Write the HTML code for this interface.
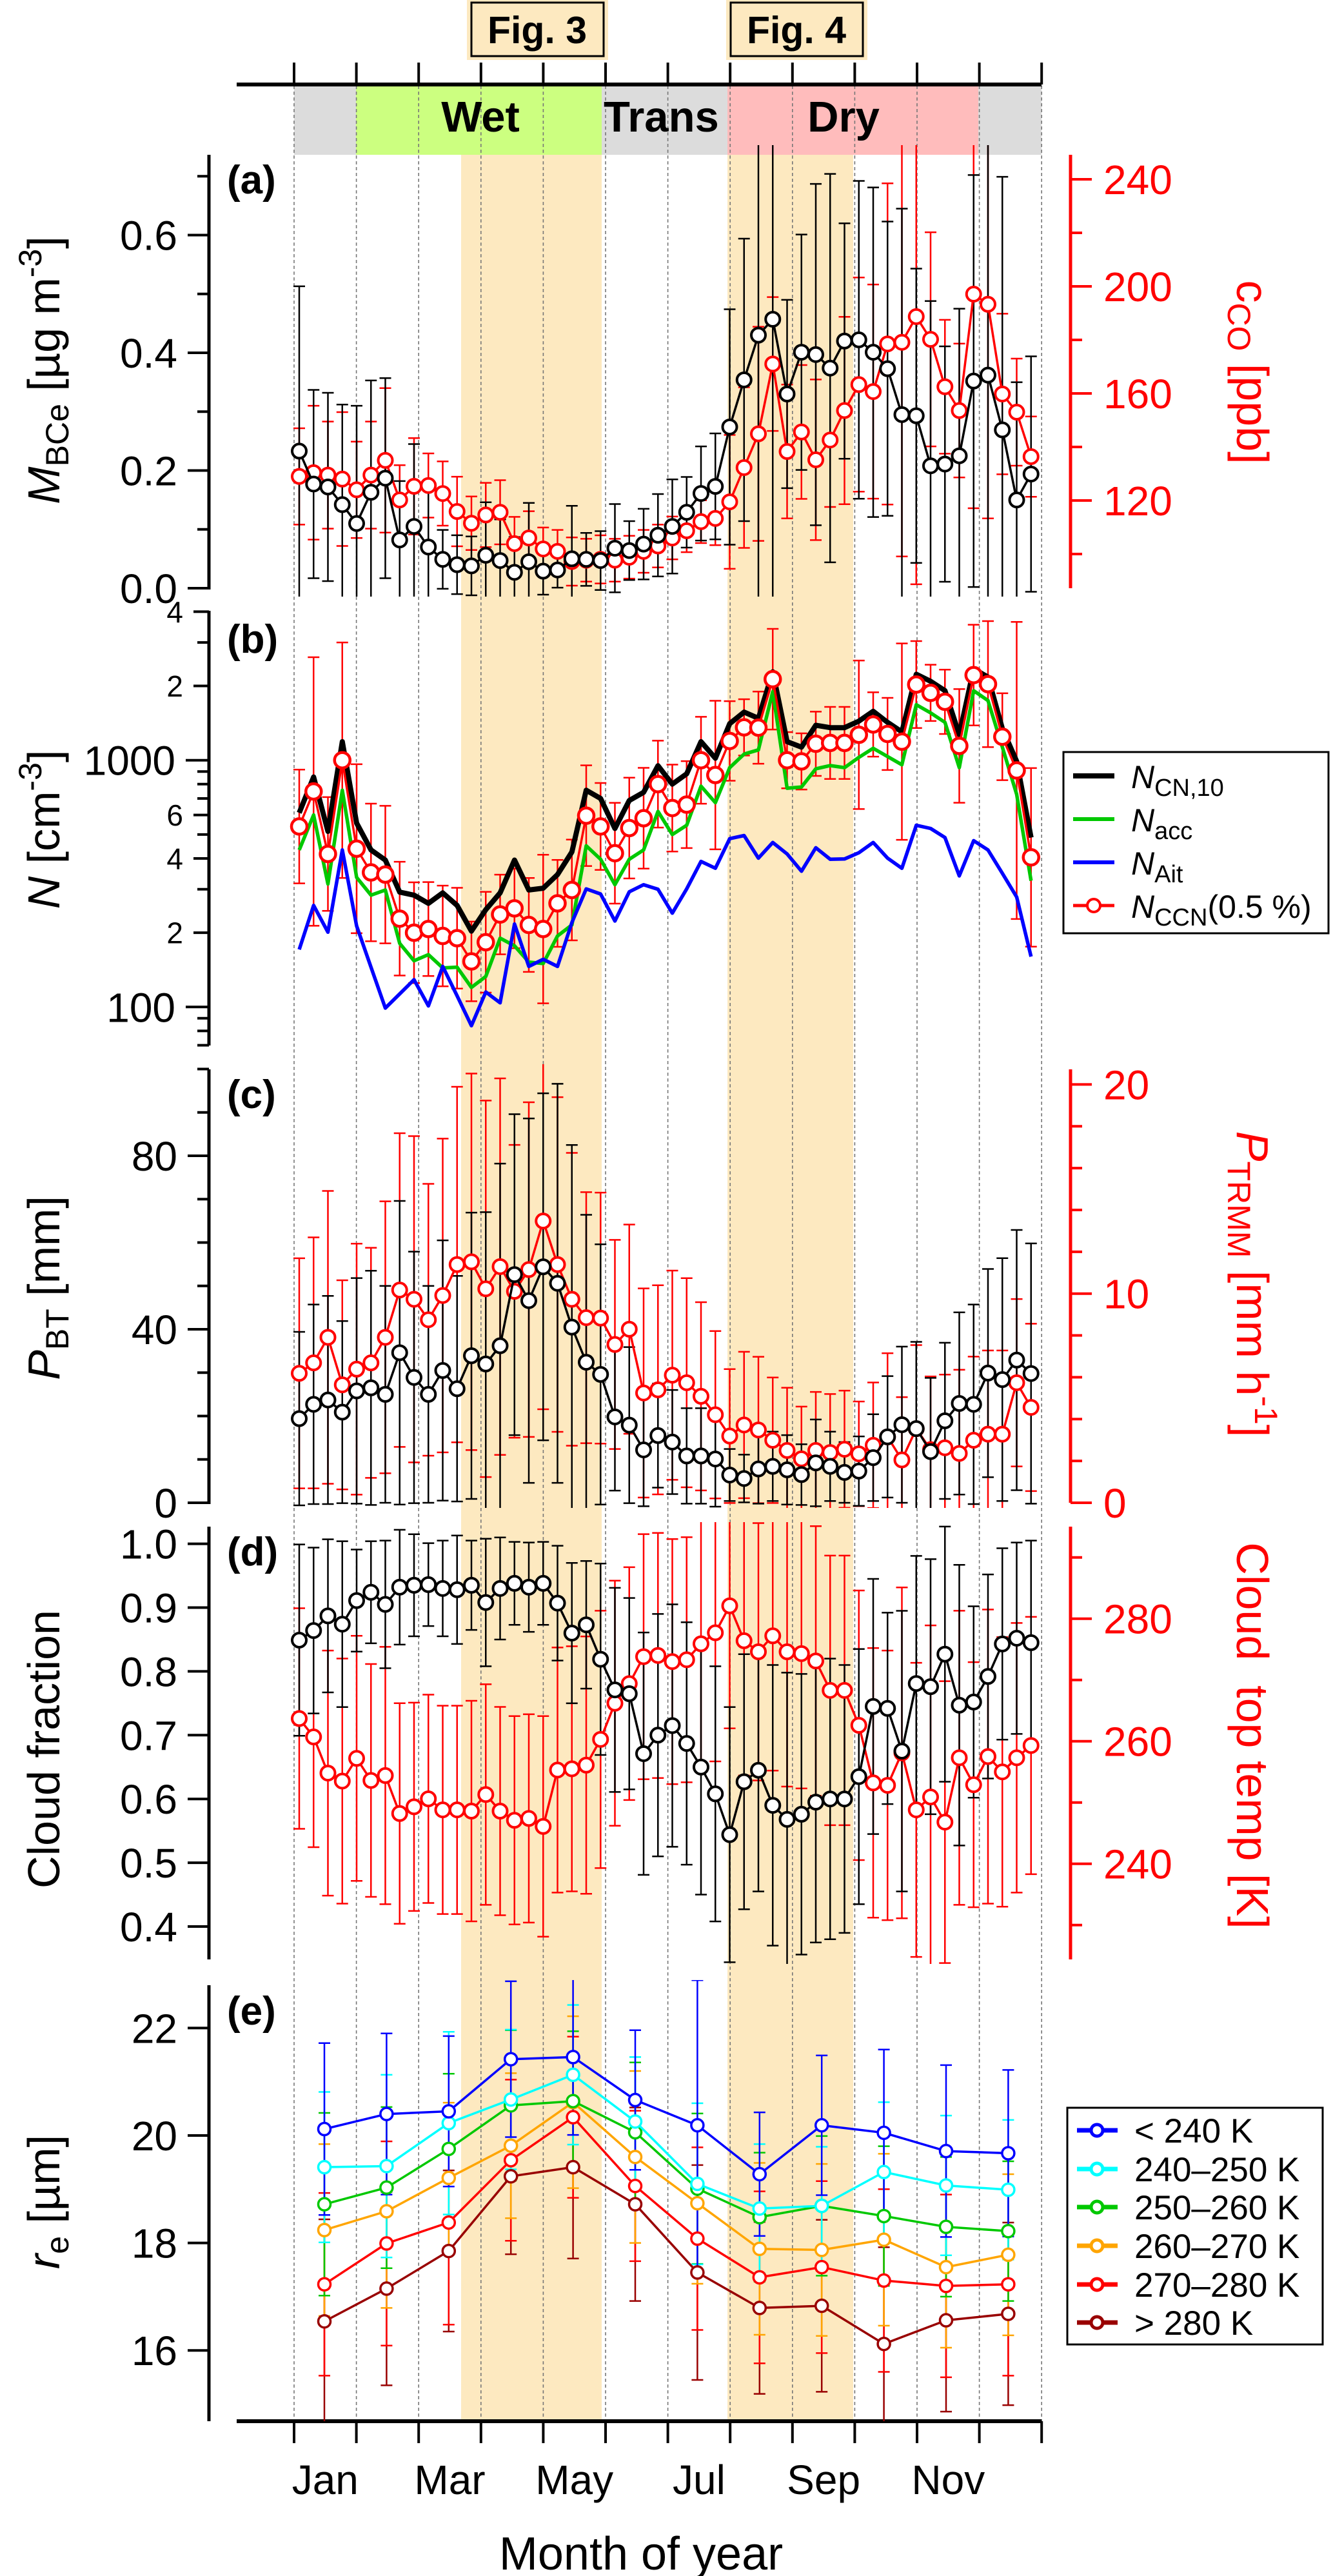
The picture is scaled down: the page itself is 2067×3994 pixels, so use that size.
<!DOCTYPE html>
<html><head><meta charset="utf-8"><title>Seasonal cycle figure</title>
<style>
html,body{margin:0;padding:0;background:#fff;}
svg{display:block;font-family:"Liberation Sans",Arial,sans-serif;}
</style></head>
<body>
<svg id="fig" xmlns="http://www.w3.org/2000/svg" width="2067" height="3994" viewBox="0 0 2067 3994">
<defs>
<clipPath id="clipA"><rect x="367" y="225" width="1260" height="700"/></clipPath>
<clipPath id="clipB"><rect x="367" y="940" width="1260" height="690"/></clipPath>
<clipPath id="clipC"><rect x="367" y="1650" width="1260" height="688"/></clipPath>
<clipPath id="clipD"><rect x="367" y="2360" width="1260" height="685"/></clipPath>
<clipPath id="clipE"><rect x="367" y="3070" width="1260" height="684"/></clipPath>
</defs>
<g id="bg"></g>
<g id="axes"></g>
<g id="marks"></g>
<g id="labels">
  <!-- Fig boxes -->
  <rect x="724" y="0" width="219" height="93" fill="#fde9c0"/>
  <rect x="731" y="4" width="205" height="83" fill="none" stroke="#000" stroke-width="3"/>
  <text x="833" y="67" font-size="59" font-weight="bold" text-anchor="middle">Fig. 3</text>
  <rect x="1126" y="0" width="219" height="93" fill="#fde9c0"/>
  <rect x="1133" y="4" width="205" height="83" fill="none" stroke="#000" stroke-width="3"/>
  <text x="1235" y="67" font-size="59" font-weight="bold" text-anchor="middle">Fig. 4</text>
  <!-- seasons -->
  <text x="745" y="204" font-size="67" font-weight="bold" text-anchor="middle">Wet</text>
  <text x="936" y="204" font-size="67" font-weight="bold">Trans</text>
  <text x="1308" y="204" font-size="67" font-weight="bold" text-anchor="middle">Dry</text>
  <!-- panel letters -->
  <text x="352" y="300" font-size="62" font-weight="bold">(a)</text>
  <text x="352" y="1012" font-size="62" font-weight="bold">(b)</text>
  <text x="352" y="1718" font-size="62" font-weight="bold">(c)</text>
  <text x="352" y="2427" font-size="62" font-weight="bold">(d)</text>
  <text x="352" y="3139" font-size="62" font-weight="bold">(e)</text>
  <!-- left y titles -->
  <text transform="translate(92,574) rotate(-90)" font-size="70" text-anchor="middle"><tspan font-style="italic">M</tspan><tspan font-size="50" dy="14">BCe</tspan><tspan dy="-14"> [µg m</tspan><tspan font-size="50" dy="-28">-3</tspan><tspan dy="28">]</tspan></text>
  <text transform="translate(92,1286) rotate(-90)" font-size="70" text-anchor="middle"><tspan font-style="italic">N</tspan><tspan> [cm</tspan><tspan font-size="50" dy="-28">-3</tspan><tspan dy="28">]</tspan></text>
  <text transform="translate(92,1997) rotate(-90)" font-size="70" text-anchor="middle"><tspan font-style="italic">P</tspan><tspan font-size="50" dy="14">BT</tspan><tspan dy="-14"> [mm]</tspan></text>
  <text transform="translate(92,2712) rotate(-90)" font-size="70" text-anchor="middle">Cloud fraction</text>
  <text transform="translate(92,3414) rotate(-90)" font-size="70" text-anchor="middle"><tspan font-style="italic">r</tspan><tspan font-size="50" dy="14">e</tspan><tspan dy="-14"> [µm]</tspan></text>
  <!-- right y titles -->
  <text transform="translate(1918,577) rotate(90)" font-size="70" fill="#ff0000" text-anchor="middle"><tspan>c</tspan><tspan font-size="50" dy="14">CO</tspan><tspan dy="-14"> [ppb]</tspan></text>
  <text transform="translate(1918,1991) rotate(90)" font-size="70" fill="#ff0000" text-anchor="middle"><tspan font-style="italic">P</tspan><tspan font-size="50" dy="14">TRMM</tspan><tspan dy="-14"> [mm h</tspan><tspan font-size="50" dy="-28">-1</tspan><tspan dy="28">]</tspan></text>
  <text transform="translate(1918,2691) rotate(90)" font-size="70" fill="#ff0000" text-anchor="middle" xml:space="preserve">Cloud  top temp [K]</text>
  <!-- x title -->
  <text x="994" y="3984" font-size="72" text-anchor="middle">Month of year</text>
  <!-- legend b -->
  <g>
    <rect x="1649" y="1166" width="411" height="281" fill="#fff" stroke="#000" stroke-width="3"/>
    <line x1="1664" y1="1203" x2="1728" y2="1203" stroke="#000" stroke-width="8"/>
    <text x="1754" y="1222" font-size="50"><tspan font-style="italic">N</tspan><tspan font-size="38" dy="12">CN,10</tspan></text>
    <line x1="1664" y1="1270" x2="1728" y2="1270" stroke="#00c800" stroke-width="6"/>
    <text x="1754" y="1289" font-size="50"><tspan font-style="italic">N</tspan><tspan font-size="38" dy="12">acc</tspan></text>
    <line x1="1664" y1="1337" x2="1728" y2="1337" stroke="#0000ff" stroke-width="6"/>
    <text x="1754" y="1356" font-size="50"><tspan font-style="italic">N</tspan><tspan font-size="38" dy="12">Ait</tspan></text>
    <line x1="1664" y1="1404" x2="1728" y2="1404" stroke="#ff0000" stroke-width="5"/>
    <circle cx="1696" cy="1404" r="10" fill="#fff" stroke="#ff0000" stroke-width="4"/>
    <text x="1754" y="1423" font-size="50"><tspan font-style="italic">N</tspan><tspan font-size="38" dy="12">CCN</tspan><tspan dy="-12">(0.5 %)</tspan></text>
  </g>
  <!-- legend e -->
  <g id="legendE">
    <rect x="1655" y="3268" width="396" height="367" fill="#fff" stroke="#000" stroke-width="3"/>
  </g>
</g>
</svg>
<script>
// ---------- data ----------
const weeks = [0,1,2,3,4,5,6,7,8,9,10,11,12,13,14,15,16,17,18,19,20,21,22,23,24,25,26,27,28,29,30,31,32,33,34,35,36,37,38,39,40,41,42,43,44,45,46,47,48,49,50,51];
const monthLabels = ["Jan","Mar","May","Jul","Sep","Nov"];
const monthLabelIdx = [0,2,4,6,8,10];
// panel a
const mbcValues = [0.233,0.177,0.172,0.142,0.110,0.163,0.187,0.082,0.105,0.070,0.049,0.040,0.038,0.056,0.047,0.027,0.045,0.029,0.031,0.050,0.049,0.047,0.068,0.064,0.075,0.09,0.105,0.129,0.161,0.173,0.274,0.354,0.430,0.457,0.330,0.401,0.397,0.374,0.420,0.422,0.401,0.373,0.295,0.293,0.208,0.211,0.225,0.352,0.362,0.269,0.150,0.194];
const mbcErr = [0.28,0.16,0.16,0.17,0.2,0.19,0.17,0.1,0.14,0.1,0.05,0.05,0.05,0.09,0.07,0.06,0.1,0.04,0.03,0.09,0.045,0.05,0.075,0.05,0.06,0.07,0.08,0.06,0.08,0.09,0.2,0.24,0.5,0.55,0.16,0.2,0.29,0.33,0.2,0.27,0.28,0.25,0.35,0.25,0.28,0.2,0.25,0.35,0.43,0.43,0.2,0.2];
const coValues = [129.0,130.4,129.5,128,124,129.5,135,120.2,125.3,125.6,122.6,115.9,111.5,114.6,115.6,103.9,106,101.9,101,97.2,97.7,98,97.7,98.8,101,103,106,108.7,112.1,113.3,119.5,132.3,144.9,171,138.3,145.6,135.2,142.6,153.6,163.3,160.7,178.5,179.1,188.7,180.2,162.5,153.6,197.1,193.3,159.8,153,136.4];
const coErr = [18,25,20,25,18,20,27,13,18,12,12,13,10,12,12,10,10,8,8,9,8,9,8,8,8,8,8,8,8,10,25,30,40,25,25,25,30,25,35,40,40,60,80,100,40,25,25,80,80,30,20,15];
const aLeftTicks = [0.0,0.2,0.4,0.6];
const aLeftLabels = ["0.0","0.2","0.4","0.6"];
const aRightTicks = [120,160,200,240];
// panel b
const ncnValues = [612,855,515,1189,556,433,394,292,284,263,290,258,203,248,290,394,298,303,344,425,756,700,529,687,741,950,800,881,1189,1019,1407,1567,1479,2282,1189,1130,1386,1355,1355,1440,1579,1424,1303,2230,2089,1913,1268,2344,2173,1343,989,486];
const nccnValues = [539,747,417,1000,438,351,344,228,200,207,194,190,153,183,237,251,215,207,263,298,596,539,420,531,582,800,640,661,1000,871,1197,1359,1355,2130,1000,989,1166,1175,1175,1268,1396,1278,1189,2026,1875,1725,1143,2213,2034,1245,909,404];
const nccnErrFactor = [1.7,3.5,1.7,3,2.2,1.9,1.9,1.7,1.6,1.55,1.6,1.6,1.45,1.6,1.45,1.45,1.55,2.0,1.5,1.6,1.6,1.5,1.6,1.6,1.6,1.5,1.5,1.5,1.5,2.0,1.45,1.3,1.4,1.6,1.3,1.3,1.35,1.4,1.4,2.0,1.35,1.4,2.5,1.5,1.3,1.35,1.7,1.6,1.8,1.5,4,2.3];
const naccValues = [433,600,315,756,335,284,298,181,154,163,144,145,120,133,190,177,152,150,194,215,450,397,313,397,433,620,500,545,785,673,933,1059,1101,1897,770,779,923,951,933,1027,1118,1035,959,1679,1555,1424,933,1913,1745,1130,727,325];
const naitValues = [171,258,201,433,213,145,99,113,129,101,146,111,84,115,104,217,146,156,146,220,301,287,223,293,313,300,240,301,389,365,481,495,401,464,417,355,442,397,398,422,464,401,365,545,529,486,340,472,433,348,279,160];
const bMajorTicks = [100,1000];
const bMinorLabeled = [200,400,600,2000,4000];
const bMinorLabels = ["2","4","6","2","4"];
const bMinorTicks = [70,80,90,300,500,700,800,900,3000];
// panel c
const pbtValues = [19.4,22.7,23.7,20.9,25.8,26.5,25.0,34.6,28.9,25.0,30.5,26.3,33.9,32.0,36.2,52.6,46.6,54.4,50.6,40.5,32.4,29.6,19.8,17.9,12.2,15.5,14,10.8,10.8,10.1,6.4,5.6,7.8,8.4,7.6,6.5,9.2,8.4,7.0,7.3,10.4,15.2,18.0,17.1,11.8,18.9,22.9,22.7,29.9,28.4,32.9,29.8];
const pbtErr = [20,23,24,21,26,27,25,35,29,25,30,26,33,35,42,37,42,40,46,42,34,30,17,18,13,12,12,11,11,11,6,5.5,8,8,8,7,10,8,7,8,10,14,18,20,17,18,21,23,24,28,30,30];
const ptrmmValues = [6.19,6.69,7.91,5.64,6.39,6.69,7.91,10.17,9.73,8.75,9.91,11.39,11.52,10.23,11.29,10.11,11.15,13.47,11.39,9.73,8.85,8.83,7.57,8.30,5.25,5.4,6.1,5.74,5.09,4.21,3.19,3.72,3.48,2.99,2.50,2.10,2.50,2.40,2.56,2.34,2.75,3.15,2.05,3.54,2.54,2.63,2.36,2.99,3.28,3.28,5.74,4.56];
const ptrmmErr = [5.5,6,7,5,6,5.5,6.5,7.5,7.8,6.5,7.5,8.5,9,9,9,7,8,9,8,7,6,6,5,5,5,5,5,5,4.5,4,3.2,3.5,3.5,3,3,2.5,2.8,2.8,2.8,2.5,3,4,3,4,3.5,3.5,4,4,4,4,4,4];
const cLeftTicks = [0,40,80];
const cRightTicks = [0,10,20];
// panel d
const cfValues = [0.849,0.864,0.887,0.874,0.911,0.924,0.905,0.932,0.935,0.936,0.930,0.928,0.935,0.908,0.930,0.938,0.932,0.938,0.907,0.860,0.873,0.819,0.771,0.765,0.671,0.70,0.715,0.687,0.650,0.608,0.544,0.627,0.645,0.590,0.568,0.576,0.595,0.600,0.600,0.635,0.745,0.742,0.675,0.781,0.776,0.827,0.747,0.752,0.792,0.843,0.852,0.845];
const cfErr = [0.15,0.13,0.12,0.13,0.08,0.08,0.1,0.09,0.08,0.065,0.075,0.085,0.07,0.1,0.08,0.065,0.07,0.065,0.09,0.11,0.1,0.15,0.16,0.15,0.19,0.19,0.19,0.19,0.2,0.2,0.2,0.2,0.19,0.22,0.23,0.22,0.22,0.22,0.21,0.2,0.2,0.15,0.22,0.2,0.2,0.2,0.22,0.15,0.16,0.15,0.15,0.16];
const cttValues = [263.7,260.7,254.8,253.5,257.2,253.6,254.4,248.2,249.3,250.6,248.8,248.8,248.6,251.3,248.6,247.1,247.4,246.1,255.3,255.5,256.1,260.3,266.2,269.4,273.8,274,273,273.3,275.9,277.7,282.1,276.4,274.6,277.2,274.6,274.3,273.1,268.3,268.3,262.6,253.2,252.8,258.1,248.8,250.9,246.8,257.3,252.9,257.5,255.0,257.3,259.3];
const cttErr = [18,18,20,20,20,19,21,18,17,17,17,17,18,18,17,17,17,18,20,20,21,21,20,19,20,20,20,20,20,21,20,22,21,22,22,22,22,22,22,22,22,22,27,24,28,23,24,20,24,22,22,21];
const dLeftTicks = [0.4,0.5,0.6,0.7,0.8,0.9,1.0];
const dLeftLabels = ["0.4","0.5","0.6","0.7","0.8","0.9","1.0"];
const dRightTicks = [240,260,280];
// panel e
const eMonths = [0,1,2,3,4,5,6,7,8,9,10,11];
const reLt240 = [20.12,20.40,20.45,21.42,21.46,20.66,20.19,19.28,20.19,20.05,19.71,19.67];
const re240 = [19.41,19.43,20.23,20.67,21.13,20.26,19.10,18.64,18.69,19.32,19.07,18.99];
const re250 = [18.72,19.03,19.75,20.56,20.64,20.06,19.01,18.48,18.69,18.50,18.30,18.22];
const re260 = [18.24,18.59,19.21,19.81,20.62,19.60,18.74,17.89,17.87,18.06,17.55,17.78];
const re270 = [17.23,17.99,18.38,19.54,20.34,19.06,18.08,17.36,17.55,17.30,17.20,17.23];
const reGt280 = [16.54,17.15,17.85,19.24,19.41,18.72,17.45,16.79,16.83,16.12,16.56,16.68];
const errLt240 = [1.6,1.5,1.4,1.45,1.45,1.3,2.7,1.15,1.3,1.55,1.6,1.55];
const err240 = [1.4,1.7,1.7,1.3,1.3,1.2,1.5,1.2,1.1,1.3,1.3,1.3];
const err250 = [1.7,1.5,1.4,1.4,1.3,1.3,1.4,1.2,1.3,1.3,1.3,1.3];
const err260 = [1.6,1.8,1.4,1.35,1.6,1.6,1.5,1.6,1.6,1.6,1.5,1.5];
const err270 = [1.7,1.9,1.9,1.5,1.5,1.4,1.7,1.6,1.6,1.7,1.7,1.7];
const errGt280 = [1.9,1.8,1.5,1.45,1.7,1.8,2.0,1.6,1.6,1.8,1.7,1.7];
const eLegendLabels = ["< 240 K","240–250 K","250–260 K","260–270 K","270–280 K","> 280 K"];
const eTicks = [16,18,20,22];

// ---------- scales ----------
const NS = "http://www.w3.org/2000/svg";
function monthX(m){ return 456 + 96.6*m; }
function xw(i){ return 464 + 22.25*i; }
function xe(k){ return 503 + 96.4*k; }
function ya(v){ return 912 - v*912.5; }
function yaR(v){ return 776 - (v-120)*4.15; }
function yb(v){ return 1178.7 - (Math.log10(v)-3)*382.6; }
function yc(v){ return 2330 - v*6.725; }
function ycR(v){ return 2330 - v*32.43; }
function yd(v){ return 2492.5 - (v-0.9)*989; }
function ydR(v){ return 2509.7 - (v-280)*9.5; }
function ye(v){ return 3311 - (v-20)*83.3; }

function mk(tag, at, parent){
  const e = document.createElementNS(NS, tag);
  for (const k in at) e.setAttribute(k, at[k]);
  parent.appendChild(e);
  return e;
}
const bg = document.getElementById('bg');
const axes = document.getElementById('axes');
const marks = document.getElementById('marks');
const labels = document.getElementById('labels');

// ---------- background: seasons, bands, gridlines ----------
const seasonStarts = [456,552,933,1128,1517];
const seasonEnds = [552,933,1128,1517,1615];
const seasonColors = ["#dcdcdc","#ccff80","#dcdcdc","#ffbcbc","#dcdcdc"];
const seasonNames = ["season-jan","season-wet","season-trans","season-dry","season-dec"];
for (let i=0;i<seasonStarts.length;i++){
  const r = mk('rect',{x:seasonStarts[i],y:133,width:seasonEnds[i]-seasonStarts[i],height:107,fill:seasonColors[i]},bg);
  
  
}
const band1 = mk('rect',{x:715,y:240,width:218,height:3514,fill:"#fde9c0"},bg);


const band2 = mk('rect',{x:1128,y:240,width:195,height:3514,fill:"#fde9c0"},bg);


for (let m=0;m<=12;m++){
  const l = mk('line',{x1:monthX(m),y1:133,x2:monthX(m),y2:3754,stroke:"#777","stroke-width":1.6,"stroke-dasharray":"5,4"},bg);
  
  
}

// ---------- axes ----------
function line(x1,y1,x2,y2,color,w,parent){
  return mk('line',{x1:x1,y1:y1,x2:x2,y2:y2,stroke:color,"stroke-width":w},parent||axes);
}
function text(x,y,s,size,anchor,color){
  return mk('text',{x:x,y:y,"font-size":size,"text-anchor":anchor,fill:color||"#000"},labels);
}
// top & bottom month axes
const topAx = line(367,131,1615,131,"#000",6);


const botAx = line(367,3754,1615,3754,"#000",6);


for (let m=0;m<=12;m++){
  const t1 = line(monthX(m),97,monthX(m),131,"#000",4);
  
  
  const t2 = line(monthX(m),3754,monthX(m),3788,"#000",4);
  
  
}
for (let i=0;i<monthLabels.length;i++){
  const t = text(monthX(monthLabelIdx[i]+0.5),3867,"",64,"middle");
  t.textContent = monthLabels[i];
  
  
}
function leftAxis(y0,y1,name){
  const a = line(324,y0,324,y1,"#000",5);
  
  
}
function rightAxis(y0,y1,name){
  const a = line(1660,y0,1660,y1,"#ff0000",5);
  
  
}
function lTick(y,len,lab,size){
  const t = line(324-len,y,324,y,"#000",4);
  
  
  if (lab!==null){
    const tx = text(324-len-16,y+size*0.36,"",size,"end");
    tx.textContent = lab;
    
    
  }
}
function rTick(y,len,lab){
  const t = line(1660,y,1660+len,y,"#ff0000",4);
  
  
  if (lab!==null){
    const tx = text(1711,y+23,"",64,"start","#ff0000");
    tx.textContent = lab;
    
    
  }
}
// panel a axes
leftAxis(240,914,'panel-a-y-axis');
aLeftTicks.forEach((v,i)=>lTick(ya(v),33,aLeftLabels[i],64));
[0.1,0.3,0.5,0.7].forEach(v=>lTick(ya(v),18,null,64));
rightAxis(240,912,'panel-a-y2-axis');
aRightTicks.forEach(v=>rTick(yaR(v),33,String(v)));
[100,140,180,220].forEach(v=>rTick(yaR(v),18,null));
// panel b axes
leftAxis(947,1621,'panel-b-y-axis');
bMajorTicks.forEach(v=>lTick(yb(v),36,String(v),64));
bMinorLabeled.forEach((v,i)=>lTick(yb(v),24,bMinorLabels[i],46));
bMinorTicks.forEach(v=>lTick(yb(v),18,null,46));
// panel c axes
leftAxis(1658,2332,'panel-c-y-axis');
cLeftTicks.forEach(v=>lTick(yc(v),33,String(v),64));
[10,20,30,50,60,70,90,100].forEach(v=>lTick(yc(v),18,null,64));
rightAxis(1658,2330,'panel-c-y2-axis');
cRightTicks.forEach(v=>rTick(ycR(v),33,String(v)));
[2,4,6,8,12,14,16,18].forEach(v=>rTick(ycR(v),18,null));
// panel d axes
leftAxis(2367,3038,'panel-d-y-axis');
dLeftTicks.forEach((v,i)=>lTick(yd(v),33,dLeftLabels[i],64));
rightAxis(2367,3038,'panel-d-y2-axis');
dRightTicks.forEach(v=>rTick(ydR(v),33,String(v)));
[230,250,270,290].forEach(v=>rTick(ydR(v),18,null));
// panel e axes
leftAxis(3078,3754,'panel-e-y-axis');
eTicks.forEach(v=>lTick(ye(v),33,String(v),64));

// ---------- marks ----------
function panelGroup(clip,name){
  const g = mk('g',{"clip-path":"url(#"+clip+")"},marks);
  
  
  return g;
}
function errBars(g,xs,vals,errs,yf,color,w,cap,name,logMode){
  for (let i=0;i<vals.length;i++){
    const hi = logMode ? vals[i]*errs[i] : vals[i]+errs[i];
    const lo = logMode ? vals[i]/errs[i] : vals[i]-errs[i];
    const x = xs(i);
    const yt = yf(hi), yb2 = yf(Math.max(lo, logMode?1:-1e9));
    const eg = mk('g',{stroke:color,"stroke-width":w,fill:"none"},g);
    
    
    mk('line',{x1:x,y1:yt,x2:x,y2:yb2},eg);
    mk('line',{x1:x-cap,y1:yt,x2:x+cap,y2:yt},eg);
    mk('line',{x1:x-cap,y1:yb2,x2:x+cap,y2:yb2},eg);
  }
}
function seriesLine(g,xs,vals,yf,color,w,name){
  const pts = vals.map((v,i)=>xs(i).toFixed(1)+","+yf(v).toFixed(1)).join(" ");
  const pl = mk('polyline',{points:pts,fill:"none",stroke:color,"stroke-width":w,"stroke-linejoin":"round"},g);
  
  
}
function seriesMarkers(g,xs,vals,yf,color,r,w,name){
  vals.forEach((v,i)=>{
    const c = mk('circle',{cx:xs(i),cy:yf(v),r:r,fill:"#fff",stroke:color,"stroke-width":w},g);
    
    
  });
}
// panel a
const gA = panelGroup('clipA','panel-a-plot');
errBars(gA,xw,coValues,coErr,yaR,"#ff0000",2.5,9,'co-error-bar',false);
errBars(gA,xw,mbcValues,mbcErr,ya,"#000",2.5,9,'mbc-error-bar',false);
seriesLine(gA,xw,coValues,yaR,"#ff0000",3.5,'co-line');
seriesMarkers(gA,xw,coValues,yaR,"#ff0000",11,4,'co-point');
seriesLine(gA,xw,mbcValues,ya,"#000",3.5,'mbc-line');
seriesMarkers(gA,xw,mbcValues,ya,"#000",11,4,'mbc-point');
// panel b
const gB = panelGroup('clipB','panel-b-plot');
errBars(gB,xw,nccnValues,nccnErrFactor,yb,"#ff0000",2.5,9,'nccn-error-bar',true);
seriesLine(gB,xw,ncnValues,yb,"#000",8,'ncn-line');
seriesLine(gB,xw,naccValues,yb,"#00c800",5.5,'nacc-line');
seriesLine(gB,xw,naitValues,yb,"#0000ff",5.5,'nait-line');
seriesLine(gB,xw,nccnValues,yb,"#ff0000",3.5,'nccn-line');
seriesMarkers(gB,xw,nccnValues,yb,"#ff0000",12,4.5,'nccn-point');
// panel c
const gC = panelGroup('clipC','panel-c-plot');
errBars(gC,xw,ptrmmValues,ptrmmErr,ycR,"#ff0000",2.5,9,'ptrmm-error-bar',false);
errBars(gC,xw,pbtValues,pbtErr,yc,"#000",2.5,9,'pbt-error-bar',false);
seriesLine(gC,xw,ptrmmValues,ycR,"#ff0000",3.5,'ptrmm-line');
seriesMarkers(gC,xw,ptrmmValues,ycR,"#ff0000",11,4,'ptrmm-point');
seriesLine(gC,xw,pbtValues,yc,"#000",3.5,'pbt-line');
seriesMarkers(gC,xw,pbtValues,yc,"#000",11,4,'pbt-point');
// panel d
const gD = panelGroup('clipD','panel-d-plot');
errBars(gD,xw,cttValues,cttErr,ydR,"#ff0000",2.5,9,'ctt-error-bar',false);
errBars(gD,xw,cfValues,cfErr,yd,"#000",2.5,9,'cf-error-bar',false);
seriesLine(gD,xw,cttValues,ydR,"#ff0000",3.5,'ctt-line');
seriesMarkers(gD,xw,cttValues,ydR,"#ff0000",11,4,'ctt-point');
seriesLine(gD,xw,cfValues,yd,"#000",3.5,'cf-line');
seriesMarkers(gD,xw,cfValues,yd,"#000",11,4,'cf-point');
// panel e
const gE = panelGroup('clipE','panel-e-plot');
const eSeries = [reLt240,re240,re250,re260,re270,reGt280];
const eErrs = [errLt240,err240,err250,err260,err270,errGt280];
const eColors = ["#0000ff","#00ffff","#00c800","#ffa500","#ff0000","#990000"];
const eNames = ["re-lt240","re-240-250","re-250-260","re-260-270","re-270-280","re-gt280"];
for (let s=eSeries.length-1;s>=0;s--){
  errBars(gE,xe,eSeries[s],eErrs[s],ye,eColors[s],2.5,9,eNames[s]+'-error-bar',false);
}
for (let s=eSeries.length-1;s>=0;s--){
  seriesLine(gE,xe,eSeries[s],ye,eColors[s],3.5,eNames[s]+'-line');
  seriesMarkers(gE,xe,eSeries[s],ye,eColors[s],9.5,3.5,eNames[s]+'-point');
}
// legend e entries
const legE = document.getElementById('legendE');
const legEY = [3303,3363,3422,3482,3542,3601];
for (let i=0;i<eLegendLabels.length;i++){
  const ln = mk('line',{x1:1670,y1:legEY[i],x2:1733,y2:legEY[i],stroke:eColors[i],"stroke-width":7},legE);
  
  
  const c = mk('circle',{cx:1701,cy:legEY[i],r:9,fill:"#fff",stroke:eColors[i],"stroke-width":5},legE);
  
  
  const t = mk('text',{x:1759,y:legEY[i]+19,"font-size":53},legE);
  t.textContent = eLegendLabels[i];
  
  
}
</script>
</body></html>
